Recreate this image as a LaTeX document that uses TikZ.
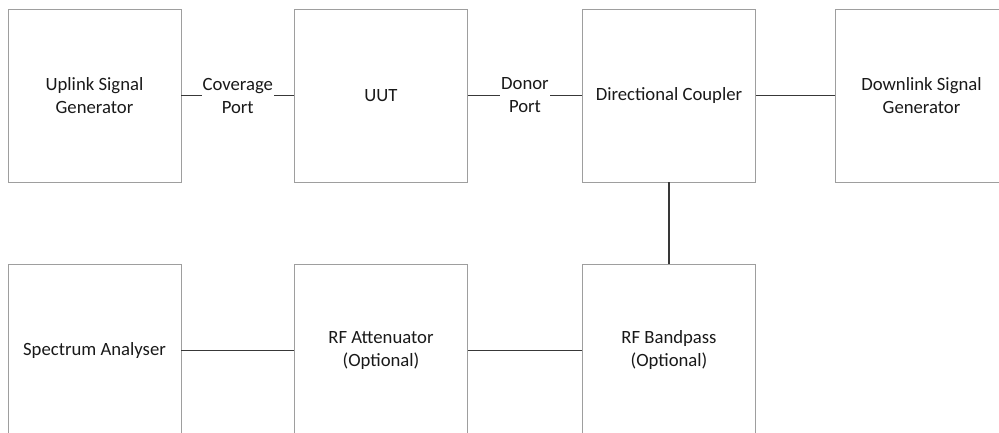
\documentclass[tikz,border=0pt]{standalone}
\usepackage{fontspec}
\setmainfont{Carlito}
\begin{document}
\begin{tikzpicture}[x=1pt,y=-1pt,
  blk/.style={draw=black!38,line width=0.9pt,minimum width=173pt,minimum height=173pt,inner sep=0pt,align=center,font=\fontsize{18.7}{23}\selectfont,text=black!90},
  conn/.style={draw=black!78,line width=1.6pt},
  lbl/.style={fill=white,inner sep=1pt,align=center,font=\fontsize{18.7}{23}\selectfont,text=black!90}]
\useasboundingbox (0,0) rectangle (999,432);
\clip (0,0) rectangle (999,432);
\node[blk] (ul) at (94.5,95.5) {Uplink Signal\\Generator};
\node[blk] (uut) at (381,95.5) {UUT};
\node[blk] (dc) at (669,95.5) {Directional Coupler};
\node[blk] (dl) at (921.5,95.5) {Downlink Signal\\Generator};
\node[blk] (sa) at (94.5,350.5) {Spectrum Analyser};
\node[blk] (att) at (381,350.5) {RF Attenuator\\(Optional)};
\node[blk] (bp) at (669,350.5) {RF Bandpass\\(Optional)};
\draw[conn] (ul.east) -- node[lbl] {Coverage\\Port} (uut.west);
\draw[conn] (uut.east) -- node[lbl] {Donor\\Port} (dc.west);
\draw[conn] (dc.east) -- (dl.west);
\draw[conn] (dc.south) -- (bp.north);
\draw[conn] (sa.east) -- (att.west);
\draw[conn] (att.east) -- (bp.west);
\end{tikzpicture}
\end{document}
